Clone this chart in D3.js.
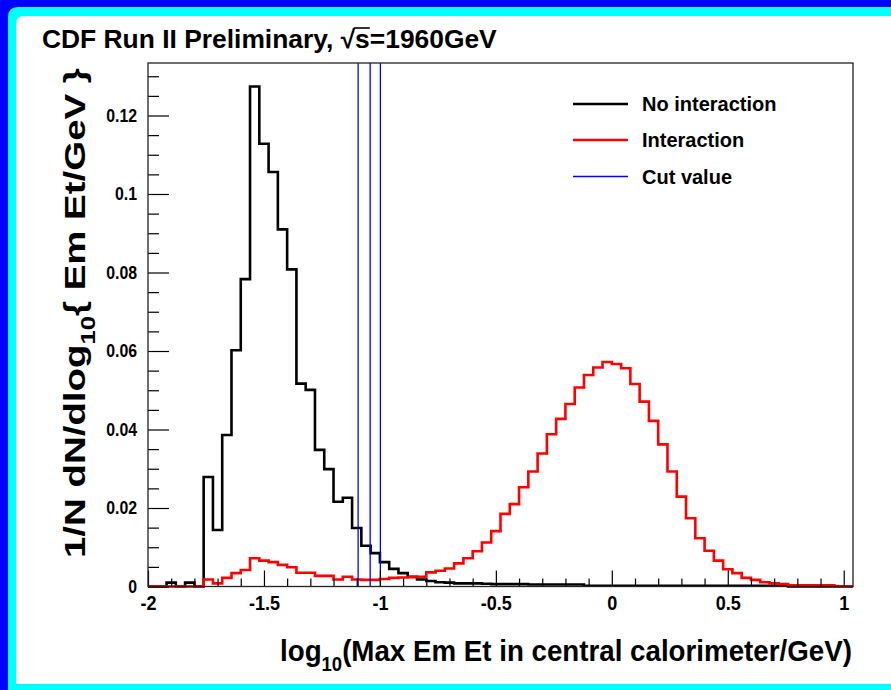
<!DOCTYPE html>
<html>
<head>
<meta charset="utf-8">
<script src="https://cdn.jsdelivr.net/npm/d3@7"></script>
<style>
  html, body { margin: 0; padding: 0; background: #0000ff; }
  svg { display: block; }
  text { font-family: "Liberation Sans", Arial, Helvetica, sans-serif; font-weight: bold; fill: #000; }
</style>
</head>
<body>
<svg id="chart" width="891" height="690"></svg>
<script>
// ---------- DATA ----------
const binEdges = [-2.00,-1.96,-1.92,-1.88,-1.84,-1.80,-1.76,-1.72,-1.68,-1.64,-1.60,-1.56,-1.52,-1.48,-1.44,-1.40,-1.36,-1.32,-1.28,-1.24,-1.20,-1.16,-1.12,-1.08,-1.04,-1.00,-0.96,-0.92,-0.88,-0.84,-0.80,-0.76,-0.72,-0.68,-0.64,-0.60,-0.56,-0.52,-0.48,-0.44,-0.40,-0.36,-0.32,-0.28,-0.24,-0.20,-0.16,-0.12,-0.08,-0.04,0.00,0.04,0.08,0.12,0.16,0.20,0.24,0.28,0.32,0.36,0.40,0.44,0.48,0.52,0.56,0.60,0.64,0.68,0.72,0.76,0.80,0.84,0.88,0.92,0.96,1.00,1.04];

const noInteraction = [0,0,0.001,0,0.001,0,0.0279,0.0144,0.0386,0.0602,0.0783,0.1274,0.1128,0.1056,0.091,0.0808,0.0517,0.0501,0.0348,0.0299,0.0216,0.0226,0.0149,0.0104,0.0085,0.0062,0.0045,0.0034,0.0025,0.0018,0.0014,0.0011,0.001,0.0008,0.0008,0.0008,0.0007,0.0006,0.0006,0.0006,0.0006,0.0005,0.0005,0.0005,0.0005,0.0005,0.0005,0.0002,0.0002,0.0002,0.0002,0.0002,0.0002,0.0002,0.0002,0.0002,0.0002,0.0002,0.0002,0.0002,0.0002,0.0002,0.0002,0.0002,0.0002,0.0002,0.0002,0.0002,0.0002,0,0,0,0,0,0,0];

const interaction = [0,0,0,0,0,0,0.0018,0.0008,0.0022,0.0034,0.0042,0.0072,0.0066,0.0062,0.0055,0.0049,0.0035,0.0035,0.0027,0.0027,0.0018,0.0025,0.0018,0.0017,0.0017,0.0019,0.0022,0.0023,0.0024,0.0025,0.0036,0.004,0.0046,0.0059,0.0072,0.009,0.0112,0.0141,0.0185,0.021,0.0253,0.0293,0.0339,0.0388,0.0427,0.0465,0.0507,0.0539,0.0558,0.0572,0.0567,0.0556,0.0516,0.0471,0.0422,0.0362,0.0293,0.0229,0.0174,0.0123,0.0091,0.0066,0.0044,0.0034,0.0022,0.0017,0.0011,0.0008,0.0006,0.0003,0.0003,0.0003,0.0003,0.0003,0,0];

const cutValues = [-1.094, -1.042, -0.998];

const xMajorTicks = [-2, -1.5, -1, -0.5, 0, 0.5, 1];
const xMinorTicks = [-1.9,-1.8,-1.7,-1.6,-1.4,-1.3,-1.2,-1.1,-0.9,-0.8,-0.7,-0.6,-0.4,-0.3,-0.2,-0.1,0.1,0.2,0.3,0.4,0.6,0.7,0.8,0.9];
const yMajorTicks = [0, 0.02, 0.04, 0.06, 0.08, 0.1, 0.12];
const yMinorTicks = [0.005,0.01,0.015,0.025,0.03,0.035,0.045,0.05,0.055,0.065,0.07,0.075,0.085,0.09,0.095,0.105,0.11,0.115,0.125,0.13];
const xTickLabels = ["-2", "-1.5", "-1", "-0.5", "0", "0.5", "1"];
const yTickLabels = ["0", "0.02", "0.04", "0.06", "0.08", "0.1", "0.12"];

const legendLabels = ["No interaction", "Interaction", "Cut value"];
const seriesColors = ["#000000", "#ff0000", "#0000ff"];

// ---------- LAYOUT ----------
const svg = d3.select("#chart");
const W = 891, H = 690;
const pL = 148, pR = 853, pT = 63, pB = 586.5;

// frame background
svg.append("rect").attr("x", 0).attr("y", 0).attr("width", W).attr("height", H).attr("fill", "#0000ff");
svg.append("path").attr("fill", "#00ffff")
  .attr("d", `M8,${7+10} Q8,7 ${8+10},7 L${W+5},7 L${W+5},${H+5} L8,${H+5} Z`);
svg.append("path").attr("fill", "#ffffff")
  .attr("d", `M16,${16+8} Q16,16 ${16+8},16 L${W+5},16 L${W+5},684 L16,684 Z`);

const x = d3.scaleLinear().domain([-2, 1.04]).range([pL, pR]);
const y = d3.scaleLinear().domain([0, (pB - pT) / 3925]).range([pB, pT]);

// histograms
function histPoints(vals) {
  const pts = vals.map((v, i) => [binEdges[i], v]);
  pts.push([binEdges[binEdges.length - 1], vals[vals.length - 1]]);
  return pts;
}
const line = d3.line().x(d => x(d[0])).y(d => y(d[1])).curve(d3.curveStepAfter);

const plot = svg.append("g");
plot.append("path").datum(histPoints(noInteraction)).attr("d", line)
  .attr("fill", "none").attr("stroke", seriesColors[0]).attr("stroke-width", 2.6).attr("stroke-linejoin", "miter");
plot.append("path").datum(histPoints(interaction)).attr("d", line)
  .attr("fill", "none").attr("stroke", seriesColors[1]).attr("stroke-width", 2.6).attr("stroke-linejoin", "miter");

plot.selectAll(".cut").data(cutValues).enter().append("line")
  .attr("x1", d => x(d)).attr("x2", d => x(d))
  .attr("y1", pT).attr("y2", pB)
  .attr("stroke", seriesColors[2]).attr("stroke-width", 1.3);

// axes
const gx = svg.append("g").attr("transform", `translate(0,${pB})`)
  .call(d3.axisBottom(x).tickValues(xMajorTicks).tickSize(-16).tickPadding(9)
    .tickFormat((d, i) => xTickLabels[i]));
gx.select(".domain").remove();
gx.selectAll(".tick line").attr("stroke", "#000").attr("stroke-width", 1.2);
gx.selectAll(".tick text")
  .style("font-size", "21px").style("font-family", "'Liberation Sans', Arial, sans-serif").style("font-weight", "bold")
  .attr("transform", "scale(0.86,1)");
const gxm = svg.append("g").attr("transform", `translate(0,${pB})`)
  .call(d3.axisBottom(x).tickValues(xMinorTicks).tickSize(-8).tickFormat(""));
gxm.select(".domain").remove();
gxm.selectAll(".tick line").attr("stroke", "#000").attr("stroke-width", 1.2);

const gy = svg.append("g").attr("transform", `translate(${pL},0)`)
  .call(d3.axisLeft(y).tickValues(yMajorTicks).tickSize(-21).tickPadding(12)
    .tickFormat((d, i) => yTickLabels[i]));
gy.select(".domain").remove();
gy.selectAll(".tick line").attr("stroke", "#000").attr("stroke-width", 1.2);
gy.selectAll(".tick text")
  .style("font-size", "18px").style("font-family", "'Liberation Sans', Arial, sans-serif").style("font-weight", "bold")
  .attr("x", 0).attr("transform", "translate(-11,0) scale(0.88,1)");
const gym = svg.append("g").attr("transform", `translate(${pL},0)`)
  .call(d3.axisLeft(y).tickValues(yMinorTicks).tickSize(-11).tickFormat(""));
gym.select(".domain").remove();
gym.selectAll(".tick line").attr("stroke", "#000").attr("stroke-width", 1.2);

// frame
svg.append("rect").attr("x", pL).attr("y", pT).attr("width", pR - pL).attr("height", pB - pT)
  .attr("fill", "none").attr("stroke", "#222").attr("stroke-width", 1.3);

// fit helper
function fitWidth(sel, target) {
  const w = sel.node().getComputedTextLength();
  return target / w;
}

// title
const title = svg.append("text").attr("x", 0).attr("y", 0).style("font-size", "26px");
title.append("tspan").text("CDF Run II Preliminary, √");
title.append("tspan").text("s=1960GeV");
{
  const s = fitWidth(title, 455);
  title.attr("transform", `translate(42,48) scale(${s},1)`);
  const tb = title.node();
  const st = tb.getStartPositionOfChar(25);
  const en = tb.getEndPositionOfChar(25);
  svg.append("line")
    .attr("x1", 42 + st.x * s - 1).attr("x2", 42 + en.x * s)
    .attr("y1", 48 - 20).attr("y2", 48 - 20)
    .attr("stroke", "#000").attr("stroke-width", 1.6);
}

// legend
const legend = svg.append("g");
const legendY = [104, 140, 176.5];
legendLabels.forEach((lab, i) => {
  legend.append("line").attr("x1", 573).attr("x2", 628).attr("y1", legendY[i]).attr("y2", legendY[i])
    .attr("stroke", seriesColors[i]).attr("stroke-width", i === 2 ? 1.3 : 2.6);
  legend.append("text").attr("x", 642).attr("y", legendY[i] + 7).style("font-size", "20px").text(lab);
});

// x label
const xl = svg.append("text").attr("text-anchor", "start").style("font-size", "30px");
xl.append("tspan").text("log");
xl.append("tspan").text("10").attr("dy", 10).style("font-size", "20px");
xl.append("tspan").text("(Max Em Et in central calorimeter/GeV)").attr("dy", -10);
{
  const s = fitWidth(xl, 572);
  xl.attr("transform", `translate(280,661) scale(${s},1)`);
}

// y label
const yl = svg.append("text").attr("text-anchor", "start").style("font-size", "30px");
yl.append("tspan").text("1/N dN/dlog");
yl.append("tspan").text("10").attr("dy", 10).style("font-size", "20px");
yl.append("tspan").text("{ Em Et/GeV }").attr("dy", -10);
{
  const s = fitWidth(yl, 490);
  yl.attr("transform", `translate(85,558) rotate(-90) scale(${s},1)`);
}
</script>
</body>
</html>
